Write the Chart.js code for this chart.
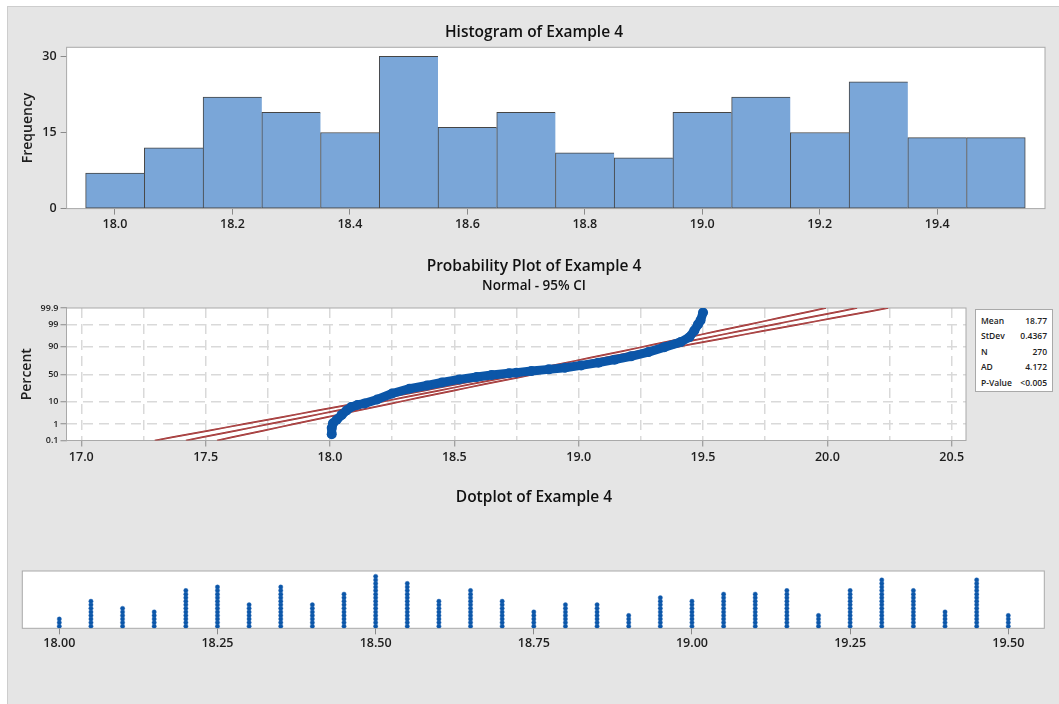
<!DOCTYPE html>
<html>
<head>
<meta charset="utf-8">
<script src="https://cdn.jsdelivr.net/npm/chart.js@4.4.1/dist/chart.umd.min.js"></script>
<style>
  html, body { margin: 0; padding: 0; width: 1059px; height: 704px; overflow: hidden; background: #ffffff;
    font-family: "Open Sans", "Noto Sans", sans-serif; }
  #panel { position: absolute; left: 7px; top: 6px; width: 1052px; height: 698px; background: #e5e5e5;
    border-left: 1px solid #cdcdcd; border-top: 1px solid #cdcdcd; box-sizing: border-box; }
  canvas { position: absolute; left: 0; top: 0; }
  .title { position: absolute; left: 0; width: 1068px; text-align: center; color: #111; white-space: nowrap; font-weight: 600; }
  .t1 { font-size: 15.5px; line-height: 19px; }
  .t2 { font-size: 13.5px; line-height: 17px; }
  #stats { position: absolute; left: 975px; top: 309px; width: 78px; height: 83px; background: #ffffff;
    border: 1px solid #a9a9a9; box-sizing: border-box; }
  .srow { position: absolute; left: 5px; width: 66px; height: 12px; line-height: 12px; font-size: 8.5px;
    font-weight: 600; color: #222; white-space: nowrap; }
  .srow span.v { position: absolute; right: 0; top: 0; }
</style>
</head>
<body>
<div id="panel"></div>
<canvas id="histChart" width="1059" height="704"></canvas>
<canvas id="probChart" width="1059" height="704"></canvas>
<canvas id="dotChart" width="1059" height="704"></canvas>
<div class="title t1" style="top:22px">Histogram of Example 4</div>
<div class="title t1" style="top:256px">Probability Plot of Example 4</div>
<div class="title t2" style="top:277px">Normal - 95% CI</div>
<div class="title t1" style="top:487px">Dotplot of Example 4</div>
<div id="stats"></div>

<script>
// ---- Histogram: bin midpoints (width 0.1) and frequencies ----
const histCenters = [18.0, 18.1, 18.2, 18.3, 18.4, 18.5, 18.6, 18.7, 18.8, 18.9, 19.0, 19.1, 19.2, 19.3, 19.4, 19.5];
const histCounts  = [7, 12, 22, 19, 15, 30, 16, 19, 11, 10, 19, 22, 15, 25, 14, 14];
const histXTicks  = [18.0, 18.2, 18.4, 18.6, 18.8, 19.0, 19.2, 19.4];
const histYTicks  = [0, 15, 30];

// ---- Normal probability plot: ordered observations and plotting percentiles ----
const probValues   = [18.007, 18.007, 18.012, 18.027, 18.047, 18.067, 18.085, 18.11, 18.14, 18.19,
                      18.25, 18.32, 18.39, 18.45, 18.52, 18.59, 18.65, 18.72, 18.75, 18.81,
                      18.88, 18.945, 19.01, 19.08, 19.145, 19.21, 19.28, 19.345, 19.41, 19.445,
                      19.465, 19.48, 19.49, 19.5];
const probPercents = [0.26, 0.6, 1.1, 1.7, 2.9, 4.6, 6.3, 7.6, 8.7, 12,
                      18.5, 25, 30, 35, 40.5, 45, 48.5, 52, 53, 56,
                      59, 62, 66, 70.6, 75.2, 79.8, 84.9, 89.7, 93.3, 95.8,
                      97.9, 99.0, 99.4, 99.8];
const probXTicks = [17.0, 17.25, 17.5, 17.75, 18.0, 18.25, 18.5, 18.75, 19.0, 19.25, 19.5, 19.75, 20.0, 20.25, 20.5];
const probYTicks = [0.1, 1, 10, 50, 90, 99, 99.9];

// ---- Summary statistics of the sample ----
const fitMean  = 18.77;
const fitStDev = 0.4367;
const fitN     = 270;
const adStat   = 4.172;
const pValueText = '<0.005';
const statLabels = ['Mean', 'StDev', 'N', 'AD', 'P-Value'];
const statValues = [fitMean.toFixed(2), fitStDev.toFixed(4), String(fitN), adStat.toFixed(3), pValueText];

// ---- Dotplot: value positions and number of observations stacked at each ----
const dotValues = [18.00, 18.05, 18.10, 18.15, 18.20, 18.25, 18.30, 18.35, 18.40, 18.45, 18.50,
                   18.55, 18.60, 18.65, 18.70, 18.75, 18.80, 18.85, 18.90, 18.95, 19.00,
                   19.05, 19.10, 19.15, 19.20, 19.25, 19.30, 19.35, 19.40, 19.45, 19.50];
const dotCounts = [3, 8, 6, 5, 11, 12, 7, 12, 7, 10, 15,
                   13, 8, 11, 8, 5, 7, 7, 4, 9, 8,
                   10, 10, 11, 4, 11, 14, 11, 5, 14, 4];
const dotXTicks = [18.00, 18.25, 18.50, 18.75, 19.00, 19.25, 19.50];

// ---- colours ----
const BAR_FILL = '#7aa6d8';
const BAR_EDGE = '#454545';
const DOT_BLUE = '#0b56a8';
const CI_RED = '#941c1c';
const FRAME = '#a9a9a9';
const TICK = '#8a8a8a';
const TEXT = '#1e1e1e';

Chart.defaults.font.family = '"Open Sans", "Noto Sans", sans-serif';
Chart.defaults.font.size = 12.5;
Chart.defaults.font.weight = '600';
Chart.defaults.color = TEXT;
Chart.defaults.animation = false;
Chart.defaults.plugins.legend.display = false;
Chart.defaults.plugins.tooltip.enabled = false;

// inverse standard normal CDF (Acklam)
function probit(p) {
  const a = [-3.969683028665376e+01, 2.209460984245205e+02, -2.759285104469687e+02, 1.383577518672690e+02, -3.066479806614716e+01, 2.506628277459239e+00];
  const b = [-5.447609879822406e+01, 1.615858368580409e+02, -1.556989798598866e+02, 6.680131188771972e+01, -1.328068155288572e+01];
  const c = [-7.784894002430293e-03, -3.223964580411365e-01, -2.400758277161838e+00, -2.549732539343734e+00, 4.374664141464968e+00, 2.938163982698783e+00];
  const d = [7.784695709041462e-03, 3.224671290700398e-01, 2.445134137142996e+00, 3.754408661907416e+00];
  const pl = 0.02425, ph = 1 - pl;
  let q, r;
  if (p < pl) {
    q = Math.sqrt(-2 * Math.log(p));
    return (((((c[0]*q+c[1])*q+c[2])*q+c[3])*q+c[4])*q+c[5]) / ((((d[0]*q+d[1])*q+d[2])*q+d[3])*q+1);
  }
  if (p > ph) {
    q = Math.sqrt(-2 * Math.log(1 - p));
    return -(((((c[0]*q+c[1])*q+c[2])*q+c[3])*q+c[4])*q+c[5]) / ((((d[0]*q+d[1])*q+d[2])*q+d[3])*q+1);
  }
  q = p - 0.5; r = q * q;
  return (((((a[0]*r+a[1])*r+a[2])*r+a[3])*r+a[4])*r+a[5])*q / (((((b[0]*r+b[1])*r+b[2])*r+b[3])*r+b[4])*r+1);
}

// white plot region + thin grey frame around it
const plotFrame = {
  id: 'plotFrame',
  beforeDraw(chart) {
    const {ctx, chartArea: a} = chart;
    ctx.save();
    ctx.fillStyle = '#ffffff';
    ctx.fillRect(a.left, a.top, a.right - a.left, a.bottom - a.top);
    ctx.restore();
  },
  beforeDatasetsDraw(chart) {
    const {ctx, chartArea: a} = chart;
    ctx.save();
    ctx.strokeStyle = FRAME;
    ctx.lineWidth = 1;
    ctx.strokeRect(a.left, a.top, a.right - a.left, a.bottom - a.top);
    ctx.restore();
  }
};

function fixedTicks(list) {
  return scale => { scale.ticks = list.map(v => ({value: v})); };
}

// ================= Histogram =================
(function () {
  const area = {left: 66.6, right: 1045, top: 47.3, bottom: 208.6};
  const yW = 47, xH = 30;
  const last = histCounts.length - 1;
  new Chart(document.getElementById('histChart'), {
    type: 'bar',
    data: {
      datasets: [{
        data: histCenters.map((x, i) => ({x: x, y: histCounts[i]})),
        backgroundColor: BAR_FILL,
        borderColor: BAR_EDGE,
        borderWidth: ctx => ({top: 1, left: 1, bottom: 1, right: ctx.dataIndex === last ? 1 : 0}),
        borderSkipped: false,
        barPercentage: 1,
        categoryPercentage: 1
      }]
    },
    options: {
      responsive: false,
      devicePixelRatio: 1,
      layout: {padding: {left: area.left - yW, right: 1059 - area.right, top: area.top, bottom: 704 - area.bottom - xH}},
      scales: {
        x: {
          type: 'linear', offset: false, min: 17.9176, max: 19.5836,
          afterBuildTicks: fixedTicks(histXTicks),
          afterFit: s => { s.height = xH; },
          border: {display: false},
          grid: {display: true, drawOnChartArea: false, drawTicks: true, tickLength: 6, tickColor: TICK, offset: false},
          ticks: {autoSkip: false, maxRotation: 0, padding: 2, callback: v => v.toFixed(1)}
        },
        y: {
          min: 0, max: 31.8,
          afterBuildTicks: fixedTicks(histYTicks),
          afterFit: s => { s.width = yW; },
          border: {display: false},
          grid: {display: true, drawOnChartArea: false, drawTicks: true, tickLength: 6, tickColor: TICK},
          ticks: {autoSkip: false, padding: 4, callback: v => String(v)},
          title: {display: true, text: 'Frequency', font: {size: 14, weight: '600'}, padding: {top: 0, bottom: 0}, color: TEXT}
        }
      }
    },
    plugins: [plotFrame]
  });
})();

// ================= Probability plot =================
(function () {
  const area = {left: 66.5, right: 966, top: 308, bottom: 440.5};
  const yW = 48, xH = 30;
  const zLo = probit(0.001), zHi = probit(0.999);

  // fitted normal line and 95% confidence limits for its percentiles
  const steps = 40;
  const fitPts = [], lowPts = [], highPts = [];
  for (let k = 0; k <= steps; k++) {
    const z = zLo + (zHi - zLo) * k / steps;
    const xp = fitMean + z * fitStDev;
    const half = 1.959964 * fitStDev * Math.sqrt((1 + z * z / 2) / fitN);
    fitPts.push({x: xp, y: z});
    lowPts.push({x: xp - half, y: z});
    highPts.push({x: xp + half, y: z});
  }
  const redLine = (pts, w, col, ord) => ({
    data: pts, showLine: true, pointRadius: 0, borderColor: col, borderWidth: w,
    tension: 0, fill: false, order: ord
  });

  const isHalf = v => Math.abs(v * 2 - Math.round(v * 2)) < 1e-6;
  new Chart(document.getElementById('probChart'), {
    type: 'scatter',
    data: {
      datasets: [
        {
          data: probValues.map((x, i) => ({x: x, y: probit(probPercents[i] / 100)})),
          showLine: true, borderColor: DOT_BLUE, borderWidth: 9, borderCapStyle: 'round', borderJoinStyle: 'round',
          pointRadius: 5, pointBackgroundColor: DOT_BLUE, pointBorderWidth: 0, tension: 0, order: 0
        },
        redLine(fitPts, 0.5, 'rgba(245,200,200,0.6)', 1),
        redLine(lowPts, 0.5, 'rgba(245,200,200,0.6)', 1),
        redLine(highPts, 0.5, 'rgba(245,200,200,0.6)', 1),
        redLine(fitPts, 1.7, CI_RED, 2),
        redLine(lowPts, 1.7, CI_RED, 2),
        redLine(highPts, 1.7, CI_RED, 2)
      ]
    },
    options: {
      responsive: false,
      devicePixelRatio: 1,
      layout: {padding: {left: area.left - yW, right: 1059 - area.right, top: area.top, bottom: 704 - area.bottom - xH}},
      scales: {
        x: {
          type: 'linear', min: 16.9405, max: 20.5575,
          afterBuildTicks: fixedTicks(probXTicks),
          afterFit: s => { s.height = xH; },
          border: {display: false, dash: [10, 6]},
          grid: {
            display: true, drawOnChartArea: true, drawTicks: true, tickLength: 6, lineWidth: 1.5,
            color: '#d9d9d9', tickBorderDash: [], tickWidth: 1,
            tickColor: ctx => (ctx.tick && isHalf(ctx.tick.value)) ? TICK : 'rgba(0,0,0,0)'
          },
          ticks: {autoSkip: false, maxRotation: 0, padding: 3, callback: v => isHalf(v) ? v.toFixed(1) : ''}
        },
        y: {
          type: 'linear', min: zLo, max: zHi,
          afterBuildTicks: fixedTicks(probYTicks.map(p => probit(p / 100))),
          afterFit: s => { s.width = yW; },
          border: {display: false, dash: [10, 6]},
          grid: {
            display: true, drawOnChartArea: true, drawTicks: true, tickLength: 6, lineWidth: 1.5,
            tickBorderDash: [], tickWidth: 1, tickColor: TICK,
            color: ctx => (ctx.index === 0 || ctx.index === probYTicks.length - 1) ? 'rgba(0,0,0,0)' : '#d9d9d9'
          },
          ticks: {autoSkip: false, padding: 2, font: {size: 9, weight: '600'}, callback: (v, i) => String(probYTicks[i])},
          title: {display: true, text: 'Percent', font: {size: 14, weight: '600'}, padding: {top: 0, bottom: 0}, color: TEXT}
        }
      }
    },
    plugins: [plotFrame]
  });
})();

// ================= Dotplot =================
(function () {
  const area = {left: 22.3, right: 1044.3, top: 571, bottom: 628.3};
  const xH = 30;
  const pts = [];
  dotValues.forEach((v, i) => {
    for (let k = 1; k <= dotCounts[i]; k++) pts.push({x: v, y: k});
  });
  new Chart(document.getElementById('dotChart'), {
    type: 'scatter',
    data: {
      datasets: [{
        data: pts, pointRadius: 2.2, pointBackgroundColor: DOT_BLUE, pointBorderColor: '#2f6fba', pointBorderWidth: 0.4
      }]
    },
    options: {
      responsive: false,
      devicePixelRatio: 1,
      layout: {padding: {left: area.left, right: 1059 - area.right, top: area.top, bottom: 704 - area.bottom - xH}},
      scales: {
        x: {
          type: 'linear', min: 17.9415, max: 19.5569,
          afterBuildTicks: fixedTicks(dotXTicks),
          afterFit: s => { s.height = xH; },
          border: {display: false},
          grid: {display: true, drawOnChartArea: false, drawTicks: true, tickLength: 6, tickColor: TICK},
          ticks: {autoSkip: false, maxRotation: 0, padding: 2, callback: v => v.toFixed(2)}
        },
        y: {display: false, min: 0.4, max: 16.5}
      }
    },
    plugins: [plotFrame]
  });
})();

// ---- summary statistics box ----
(function () {
  const box = document.getElementById('stats');
  const rowCenters = [11, 25.5, 41.5, 56.5, 72.5];
  statLabels.forEach((lab, i) => {
    const row = document.createElement('div');
    row.className = 'srow';
    row.style.top = (rowCenters[i] - 6) + 'px';
    row.textContent = lab;
    const val = document.createElement('span');
    val.className = 'v';
    val.textContent = statValues[i];
    row.appendChild(val);
    box.appendChild(row);
  });
})();
</script>
</body>
</html>
